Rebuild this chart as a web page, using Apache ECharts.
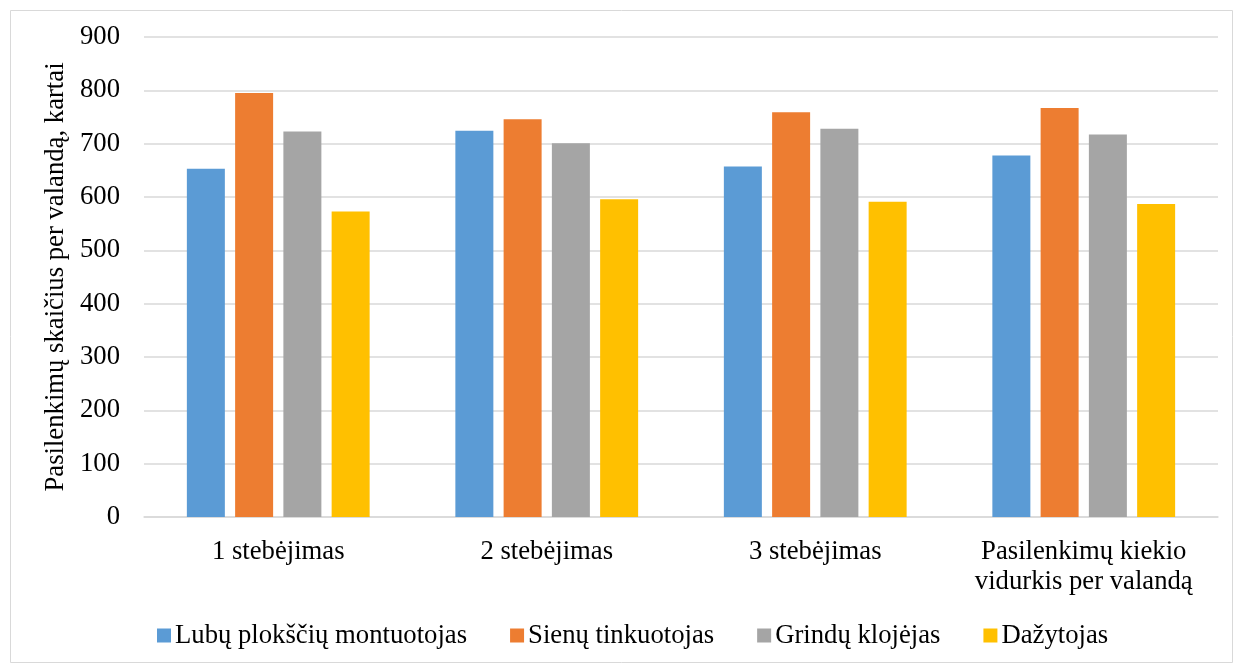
<!DOCTYPE html>
<html>
<head>
<meta charset="utf-8">
<script src="https://cdn.jsdelivr.net/npm/echarts@6/dist/echarts.min.js"></script>
<style>
  html, body { margin: 0; padding: 0; background: #ffffff; }
  #chart { width: 1238px; height: 666px; }
</style>
</head>
<body>
<div id="chart"></div>
<script>
// Observation categories
const categories = ['1 stebėjimas', '2 stebėjimas', '3 stebėjimas', 'Pasilenkimų kiekio\nvidurkis per valandą'];

// Bends per hour for each worker type
const seriesNames = ['Lubų plokščių montuotojas', 'Sienų tinkuotojas', 'Grindų klojėjas', 'Dažytojas'];
const lubuValues = [653, 724, 657, 678];
const sienuValues = [795, 746, 759, 767];
const grinduValues = [723, 701, 728, 717];
const dazytojasValues = [573, 596, 591, 587];

const colors = ['#5B9BD5', '#ED7D31', '#A5A5A5', '#FFC000'];
const fontFamily = '"Liberation Serif", "Times New Roman", serif';
const fontSize = 26.7;

const chart = echarts.init(document.getElementById('chart'), null, { renderer: 'canvas' });

const allValues = [lubuValues, sienuValues, grinduValues, dazytojasValues];

chart.setOption({
  backgroundColor: '#ffffff',
  animation: false,
  color: colors,
  textStyle: { fontFamily: fontFamily },
  graphic: [{
    type: 'rect',
    left: 8, top: 8,
    shape: { width: 1222, height: 652 },
    style: { fill: 'none', stroke: '#d9d9d9', lineWidth: 1 },
    silent: true
  }],
  grid: { left: 144, right: 20, top: 37, bottom: 149, containLabel: false },
  legend: {
    data: seriesNames,
    left: 152,
    top: 617,
    icon: 'rect',
    itemWidth: 14,
    itemHeight: 14,
    itemGap: 43,
    textStyle: { fontFamily: fontFamily, fontSize: fontSize, color: '#000000', padding: [0, 0, 0, -1] }
  },
  xAxis: {
    type: 'category',
    data: categories,
    axisLine: { lineStyle: { color: '#d9d9d9', width: 1.5 } },
    axisTick: { show: false },
    axisLabel: {
      fontFamily: fontFamily,
      fontSize: fontSize,
      color: '#000000',
      margin: 20,
      lineHeight: 30,
      interval: 0
    }
  },
  yAxis: {
    type: 'value',
    min: 0,
    max: 900,
    interval: 100,
    name: 'Pasilenkimų skaičius per valandą, kartai',
    nameLocation: 'middle',
    nameGap: 70,
    nameRotate: 90,
    nameTextStyle: { fontFamily: fontFamily, fontSize: fontSize, color: '#000000' },
    axisLine: { show: false },
    axisTick: { show: false },
    splitLine: { lineStyle: { color: '#d9d9d9', width: 1.5 } },
    axisLabel: {
      fontFamily: fontFamily,
      fontSize: fontSize,
      color: '#000000',
      margin: 24
    }
  },
  series: seriesNames.map((name, i) => ({
    name: name,
    type: 'bar',
    data: allValues[i],
    barWidth: 38,
    barGap: '27%',
    itemStyle: { color: colors[i] }
  }))
});
</script>
</body>
</html>
